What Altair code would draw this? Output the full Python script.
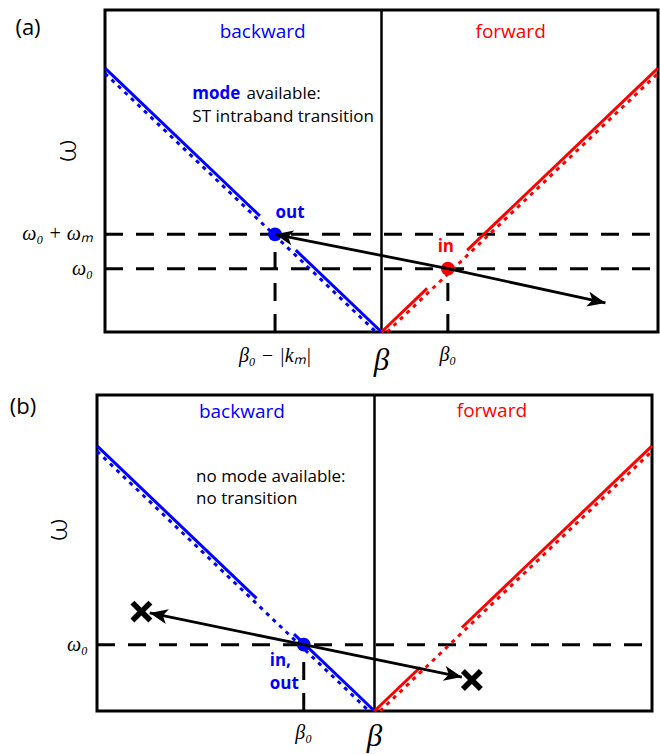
import math
import altair as alt
import pandas as pd

BLUE = "#0000ff"
RED = "#ff0000"
SANS = "Open Sans"
SERIF = "Liberation Serif"

# ---------------- panel (a): a mode is available ----------------
a_beta_dom = [-1.0, 1.0]
a_omega_dom = [0.0, 1.22]
# light line (solid), drawn in pieces that leave room around the marked states
a_blue_solid_beta = [[-1.0, -0.44], [-0.31, 0.0]]
a_blue_solid_omega = [[1.0, 0.44], [0.31, 0.0]]
a_red_solid_beta = [[0.0, 0.165], [0.31, 1.0]]
a_red_solid_omega = [[0.0, 0.165], [0.31, 1.0]]
# guided-mode branches (dotted)
a_blue_mode_beta = [-1.0, -0.02]
a_blue_mode_omega = [0.98, 0.0]
a_red_mode_beta = [0.02, 1.0]
a_red_mode_omega = [0.0, 0.98]
# states and transition
a_beta0 = 0.24
a_omega0 = 0.24
a_omega_m = 0.13
a_km = 0.625
a_far_tip = [0.81, 0.11]

# ---------------- panel (b): no mode available ----------------
b_beta_dom = [-1.0, 1.0]
b_omega_dom = [0.0, 1.192]
b_blue_solid_beta = [[-1.0, -0.425], [-0.29, 0.0]]
b_blue_solid_omega = [[1.0, 0.425], [0.29, 0.0]]
b_red_solid_beta = [[0.0, 0.165], [0.315, 1.0]]
b_red_solid_omega = [[0.0, 0.165], [0.315, 1.0]]
b_blue_mode_beta = [-1.0, -0.02]
b_blue_mode_omega = [0.98, 0.0]
b_red_mode_beta = [0.02, 1.0]
b_red_mode_omega = [0.0, 0.98]
b_beta0 = -0.255
b_omega0 = 0.25
b_left_tip = [-0.81, 0.37]
b_left_cross = [-0.84, 0.375]
b_right_tip = [0.315, 0.128]
b_right_cross = [0.351, 0.117]

# pixel frames of the two panels (plot boxes)
A_XR, A_YR = [105, 658], [332, 10]
B_XR, B_YR = [97, 652], [711, 395]

ARROW_PATH = "M0,0 L0.42,1 L0,0.74 L-0.42,1 Z"
CROSS_PATH = ("M-1,-0.64 L-0.64,-1 L0,-0.36 L0.64,-1 L1,-0.64 L0.36,0 "
              "L1,0.64 L0.64,1 L0,0.36 L-0.64,1 L-1,0.64 L-0.36,0 Z")


class Panel:
    def __init__(self, xdom, ydom, xr, yr):
        self.xdom, self.ydom = xdom, ydom
        self.xs = alt.Scale(domain=xdom, range=xr, nice=False, zero=False)
        self.ys = alt.Scale(domain=ydom, range=yr, nice=False, zero=False)
        self.px = (xr[1] - xr[0]) / (xdom[1] - xdom[0])
        self.py = (yr[0] - yr[1]) / (ydom[1] - ydom[0])
        self.layers = []

    def enc(self, **kw):
        return dict(x=alt.X("b:Q", scale=self.xs, axis=None),
                    y=alt.Y("w:Q", scale=self.ys, axis=None), **kw)

    def frame(self):
        df = pd.DataFrame({"b": [self.xdom[0]], "b2": [self.xdom[1]],
                           "w": [self.ydom[0]], "w2": [self.ydom[1]]})
        self.layers.append(alt.Chart(df).mark_rect(
            fillOpacity=0, stroke="black", strokeWidth=3
        ).encode(**self.enc(x2="b2:Q", y2="w2:Q")))
        df2 = pd.DataFrame({"b": [0.0], "w": [self.ydom[0]], "w2": [self.ydom[1]]})
        self.layers.append(alt.Chart(df2).mark_rule(
            color="black", strokeWidth=2.5
        ).encode(**self.enc(y2="w2:Q")))

    def segs(self, bs, ws, color, width=3, dash=None):
        rows = [{"b": b[0], "b2": b[1], "w": w[0], "w2": w[1]} for b, w in zip(bs, ws)]
        kw = dict(color=color, strokeWidth=width)
        if dash:
            kw["strokeDash"] = dash
        self.layers.append(alt.Chart(pd.DataFrame(rows)).mark_rule(**kw).encode(
            **self.enc(x2="b2:Q", y2="w2:Q")))

    def points(self, bs, ws, color, size=190):
        df = pd.DataFrame({"b": bs, "w": ws})
        self.layers.append(alt.Chart(df).mark_point(
            shape="circle", filled=True, opacity=1, color=color, size=size
        ).encode(**self.enc()))

    def arrow(self, start, tip):
        self.segs([[start[0], tip[0]]], [[start[1], tip[1]]], "black", width=2.8)
        vx = (tip[0] - start[0]) * self.px
        vy = (tip[1] - start[1]) * self.py
        ang = math.degrees(math.atan2(vx, vy)) % 360
        df = pd.DataFrame({"b": [tip[0]], "w": [tip[1]], "a": [ang]})
        self.layers.append(alt.Chart(df).mark_point(
            shape=ARROW_PATH, filled=True, opacity=1, color="black",
            size=1300, strokeWidth=0
        ).encode(**self.enc(angle=alt.Angle("a:Q", scale=None))))

    def cross(self, at):
        df = pd.DataFrame({"b": [at[0]], "w": [at[1]]})
        self.layers.append(alt.Chart(df).mark_point(
            shape=CROSS_PATH, filled=True, opacity=1, color="black",
            size=480, strokeWidth=0
        ).encode(**self.enc()))

    def text(self, b, w, s, **style):
        df = pd.DataFrame({"b": [b], "w": [w], "t": [s]})
        self.layers.append(alt.Chart(df).mark_text(**style).encode(
            **self.enc(text="t:N")))


def mode_lines(p, blue_b, blue_w, red_b, red_w):
    p.segs([blue_b], [blue_w], BLUE, width=3, dash=[4, 5])
    p.segs([red_b], [red_w], RED, width=3, dash=[4, 5])


OMEGA_AXIS = dict(font="Lato", fontWeight=300, fontSize=32, angle=270,
                  align="center", baseline="middle", color="black")

# ---------------- build panel (a) ----------------
pa = Panel(a_beta_dom, a_omega_dom, A_XR, A_YR)
out_b, out_w = a_beta0 - a_km, a_omega0 + a_omega_m
pa.frame()
DASH = [18, 13]
pa.segs([a_beta_dom, a_beta_dom], [[out_w, out_w], [a_omega0, a_omega0]],
        "black", width=3, dash=DASH)
pa.segs([[out_b, out_b], [a_beta0, a_beta0]], [[0, out_w], [0, a_omega0]],
        "black", width=3, dash=DASH)
pa.segs(a_blue_solid_beta, a_blue_solid_omega, BLUE)
pa.segs(a_red_solid_beta, a_red_solid_omega, RED)
mode_lines(pa, a_blue_mode_beta, a_blue_mode_omega, a_red_mode_beta, a_red_mode_omega)
pa.points([out_b], [out_w], BLUE)
pa.points([a_beta0], [a_omega0], RED)
pa.arrow([a_beta0, a_omega0], [out_b, out_w])
pa.arrow([a_beta0, a_omega0], a_far_tip)

top_a = a_omega_dom[1]
pa.text(a_beta_dom[0], top_a, "(a)", font=SANS, fontSize=22, align="center",
        baseline="middle", dx=-77, dy=18, color="black")
pa.text(-0.43, 1.114, "backward", font=SANS, fontSize=19, align="center",
        baseline="alphabetic", color=BLUE)
pa.text(0.467, 1.114, "forward", font=SANS, fontSize=19, align="center",
        baseline="alphabetic", color=RED)
pa.text(-0.684, 0.884, "mode", font=SANS, fontSize=17, fontWeight="bold",
        align="left", baseline="alphabetic", color=BLUE)
pa.text(-0.488, 0.884, "available:", font=SANS, fontSize=17,
        align="left", baseline="alphabetic", color="black")
pa.text(-0.684, 0.797, "ST intraband transition", font=SANS, fontSize=17,
        align="left", baseline="alphabetic", color="black")
pa.text(out_b, out_w, "out", font=SANS, fontSize=17, fontWeight="bold",
        align="center", baseline="alphabetic", dx=15, dy=-16, color=BLUE)
pa.text(a_beta0, a_omega0, "in", font=SANS, fontSize=17, fontWeight="bold",
        align="center", baseline="alphabetic", dx=-2, dy=-17, color=RED)
pa.text(a_beta_dom[0], 0.686, "ω", dy=-39, **OMEGA_AXIS)
pa.text(a_beta_dom[0], out_w, "ω₀ + ωₘ", font=SERIF, fontSize=20, fontStyle="italic",
        align="right", baseline="middle", dx=-12, color="black")
pa.text(a_beta_dom[0], a_omega0, "ω₀", font=SERIF, fontSize=20, fontStyle="italic",
        align="right", baseline="middle", dx=-12, color="black")
pa.text(out_b, 0, "β₀ − |kₘ|", font=SERIF, fontSize=20, fontStyle="italic",
        align="center", baseline="middle", dy=24, color="black")
pa.text(a_beta0, 0, "β₀", font=SERIF, fontSize=20, fontStyle="italic",
        align="center", baseline="middle", dy=23, color="black")
pa.text(0, 0, "β", font=SERIF, fontSize=31, fontStyle="italic",
        align="center", baseline="middle", dy=29, color="black")

# ---------------- build panel (b) ----------------
pb = Panel(b_beta_dom, b_omega_dom, B_XR, B_YR)
pb.frame()
pb.segs([b_beta_dom], [[b_omega0, b_omega0]], "black", width=3, dash=DASH)
pb.segs([[b_beta0, b_beta0]], [[0, b_omega0]], "black", width=3, dash=DASH)
pb.segs(b_blue_solid_beta, b_blue_solid_omega, BLUE)
pb.segs(b_red_solid_beta, b_red_solid_omega, RED)
mode_lines(pb, b_blue_mode_beta, b_blue_mode_omega, b_red_mode_beta, b_red_mode_omega)
pb.points([b_beta0], [b_omega0], BLUE)
pb.arrow([b_beta0, b_omega0], b_left_tip)
pb.arrow([b_beta0, b_omega0], b_right_tip)
pb.cross(b_left_cross)
pb.cross(b_right_cross)

top_b = b_omega_dom[1]
pb.text(b_beta_dom[0], top_b, "(b)", font=SANS, fontSize=22, align="center",
        baseline="middle", dx=-74, dy=12, color="black")
pb.text(-0.478, 1.104, "backward", font=SANS, fontSize=19, align="center",
        baseline="alphabetic", color=BLUE)
pb.text(0.423, 1.108, "forward", font=SANS, fontSize=19, align="center",
        baseline="alphabetic", color=RED)
pb.text(-0.643, 0.864, "no mode available:", font=SANS, fontSize=17,
        align="left", baseline="alphabetic", color="black")
pb.text(-0.643, 0.781, "no transition", font=SANS, fontSize=17,
        align="left", baseline="alphabetic", color="black")
pb.text(b_beta0, b_omega0, "in,", font=SANS, fontSize=17, fontWeight="bold",
        align="left", baseline="alphabetic", dx=-34, dy=21, color=BLUE)
pb.text(b_beta0, b_omega0, "out", font=SANS, fontSize=17, fontWeight="bold",
        align="left", baseline="alphabetic", dx=-34, dy=44, color=BLUE)
pb.text(b_beta_dom[0], 0.683, "ω", dy=-40, **OMEGA_AXIS)
pb.text(b_beta_dom[0], b_omega0, "ω₀", font=SERIF, fontSize=20, fontStyle="italic",
        align="right", baseline="middle", dx=-9, color="black")
pb.text(b_beta0, 0, "β₀", font=SERIF, fontSize=20, fontStyle="italic",
        align="center", baseline="middle", dy=22, color="black")
pb.text(0, 0, "β", font=SERIF, fontSize=31, fontStyle="italic",
        align="center", baseline="middle", dy=26, color="black")

chart = alt.layer(*(pa.layers + pb.layers)).resolve_scale(
    x="independent", y="independent"
).properties(
    width=660, height=754, autosize=alt.AutoSizeParams(type="none"),
    padding=0
).configure_view(stroke=None)

chart.save("out.html", embed_options={"renderer": "svg", "actions": False})
